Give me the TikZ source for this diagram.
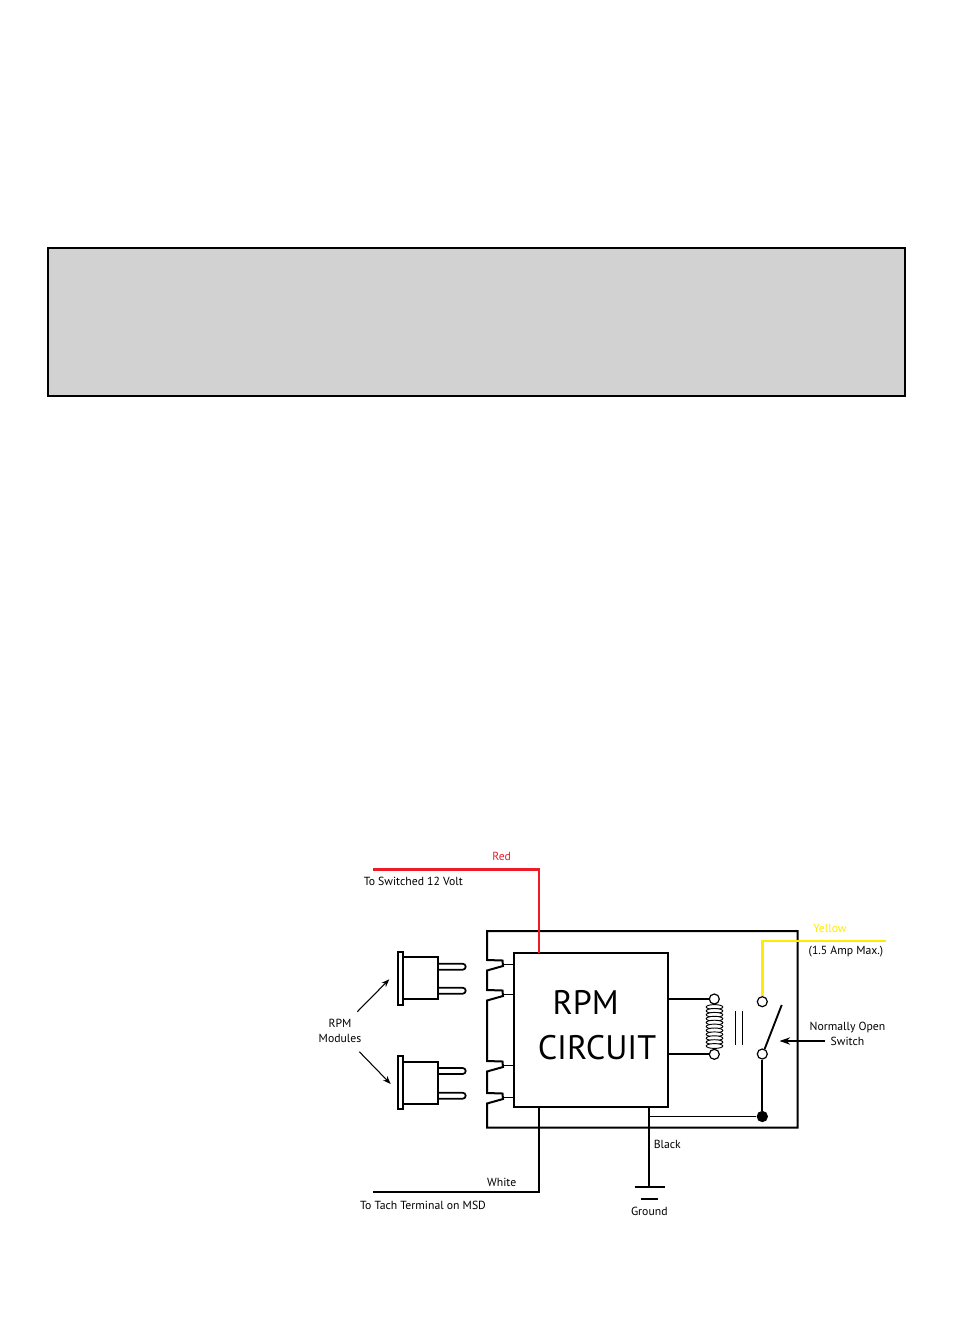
\documentclass[tikz,border=0pt]{standalone}
\usepackage{fontspec}
\setmainfont{PT Sans}
\usetikzlibrary{arrows.meta}
\definecolor{wirered}{RGB}{237,28,36}
\definecolor{wireyellow}{RGB}{255,234,0}
\definecolor{panelgray}{RGB}{210,210,210}
\tikzset{
  lbl/.style={inner sep=0.75pt, font=\fontsize{8.8}{11.25}\selectfont},
  bigtxt/.style={inner sep=0pt, font=\fontsize{25.5}{30}\selectfont},
  boxline/.style={line width=1.5pt},
  wire/.style={line width=1.4pt},
  lead/.style={line width=0.7pt},
  redwire/.style={draw=wirered, line width=1.6pt},
  yellowwire/.style={draw=wireyellow, line width=1.8pt},
  plugline/.style={line width=1.3pt, fill=white},
  coilline/.style={line width=0.7pt, fill=white},
  contact/.style={circle, draw, fill=white, line width=0.9pt, inner sep=0pt, minimum size=7.5pt},
  joint/.style={circle, fill=black, inner sep=0pt, minimum size=8.5pt},
  pointer/.style={line width=0.8pt, -{Stealth[length=6pt,width=4.5pt]}},
}
\begin{document}
\begin{tikzpicture}[x=0.75pt,y=0.75pt,yscale=-1,xscale=1]
  \path[use as bounding box] (0,0) rectangle (954,1336);
  %Shape: grey panel
  \draw[boxline, fill=panelgray] (48,248) rectangle (905,396);

  %Shape: housing with the module slots
  \draw[boxline] (797.7,931) -- (487,931) -- (487,960) -- (502.5,960.5) -- (503,966) -- (487,970.5)
    -- (487,990) -- (502.5,990.5) -- (503,996) -- (487,1000.5)
    -- (487,1061) -- (502.5,1061.5) -- (503,1067) -- (487,1071.5)
    -- (487,1093) -- (502.5,1093.5) -- (503,1099) -- (487,1103.5)
    -- (487,1127.5) -- (797.7,1127.5) -- cycle;

  % RPM circuit block
  \node[draw, boxline, minimum width=115.7pt, minimum height=115.5pt] (rpm) at (591.2,1030.3) {};
  \node[bigtxt] (rpmtxt) at (585.7,1002.5) {RPM};
  \node[bigtxt] (circtxt) at (597,1047.2) {CIRCUIT};

  % slot leads
  \coordinate (sl1) at (503,964.7);
  \coordinate (sl2) at (503,994.7);
  \coordinate (sl3) at (503,1065.7);
  \coordinate (sl4) at (503,1097.7);
  \draw[lead] (sl1) -- (sl1 -| rpm.west);
  \draw[lead] (sl2) -- (sl2 -| rpm.west);
  \draw[lead] (sl3) -- (sl3 -| rpm.west);
  \draw[lead] (sl4) -- (sl4 -| rpm.west);

  %Shape: upper RPM module
  \draw[plugline] (437.7,963.7) -- (462.7,963.7) arc (-90:90:3) -- (437.7,969.7);
  \draw[plugline] (437.7,987.7) -- (462.7,987.7) arc (-90:90:3) -- (437.7,993.7);
  \draw[plugline] (403.3,957) rectangle (437.7,999);
  \draw[plugline] (397.7,951.7) rectangle (403.3,1005);
  %Shape: lower RPM module
  \draw[plugline] (437.7,1068) -- (462.7,1068) arc (-90:90:3) -- (437.7,1074);
  \draw[plugline] (437.7,1092.7) -- (462.7,1092.7) arc (-90:90:3) -- (437.7,1098.7);
  \draw[plugline] (403.3,1061.7) rectangle (437.7,1104);
  \draw[plugline] (397.7,1056) rectangle (403.3,1109.3);

  % Text Node
  \node[lbl, align=center] (mods) at (340,1030.5) {RPM\\Modules};
  \coordinate (modup) at (357.3,1011.7);
  \coordinate (moddn) at (359.3,1051.7);
  \coordinate (plugup) at (389.3,979.3);
  \coordinate (plugdn) at (390.7,1084);
  \draw[pointer] (modup) -- (plugup);
  \draw[pointer] (moddn) -- (plugdn);

  % Red wire
  \coordinate (redin) at (539.3,953.3);
  \coordinate (v12) at (373,869.5);
  \draw[redwire] (v12) -| (redin);
  \node[lbl, text=wirered] (redlbl) at (501.7,856.5) {Red};
  \node[lbl] (v12lbl) at (413.3,881.7) {To Switched 12 Volt};

  % relay coil
  \node[contact] (c1) at (714.3,999) {};
  \node[contact] (c2) at (714.3,1054.3) {};
  \draw[wire] (c1 -| rpm.east) -- (c1);
  \draw[wire] (c2 -| rpm.east) -- (c2);
  \draw[lead] (c1.south) -- (714.3,1006);
  \draw[lead] (c2.north) -- (714.3,1047);
  \foreach \k in {0,...,10}
    \draw[coilline] (714.5,1007+3.9*\k) ellipse [x radius=8.3, y radius=2.4];
  \draw[lead] (735,1011) -- (735,1045);
  \draw[lead] (742.7,1011) -- (742.7,1045);

  % normally open switch
  \node[contact] (sw1) at (762.3,1001.7) {};
  \node[contact] (sw2) at (762.3,1054) {};
  \coordinate (blade) at (781.7,1005);
  \draw[wire] (sw2.65) -- (blade);
  \coordinate (yel) at (886,940.7);
  \draw[yellowwire] (sw1.north) |- (yel);
  \node[lbl, text=wireyellow] (yellbl) at (830,928) {Yellow};
  \node[lbl] (amplbl) at (846,951.2) {(1.5 Amp Max.)};
  \node[lbl, align=center] (nos) at (847.5,1033.5) {Normally Open\\Switch};
  \coordinate (nosarrow) at (825,1041);
  \coordinate (nostip) at (779.5,1041);
  \draw[pointer, -{Stealth[length=8pt,width=5.5pt]}] (nosarrow) -- (nostip);

  % Black wire and ground
  \node[joint] (jt) at (762.3,1116.5) {};
  \coordinate (blk) at (649.3,1107.3);
  \coordinate (gnd) at (649.3,1186.7);
  \draw[wire] (sw2.south) -- (jt);
  \draw[wire] (jt) -- (jt -| blk);
  \draw[wire] (blk) -- (gnd);
  \draw[wire] (634.5,1186.7) -- (664.5,1186.7);
  \draw[wire] (640.5,1199) -- (657.5,1199);
  \node[lbl, anchor=west] (blklbl) at (652.5,1144.5) {Black};
  \node[lbl] (gndlbl) at (649.3,1211.5) {Ground};

  % White wire
  \coordinate (wht) at (539.3,1107.3);
  \coordinate (tach) at (373.3,1192.3);
  \draw[wire] (wht) |- (tach);
  \node[lbl] (whtlbl) at (501.7,1182) {White};
  \node[lbl] (tachlbl) at (423,1205) {To Tach Terminal on MSD};
\end{tikzpicture}
\end{document}
